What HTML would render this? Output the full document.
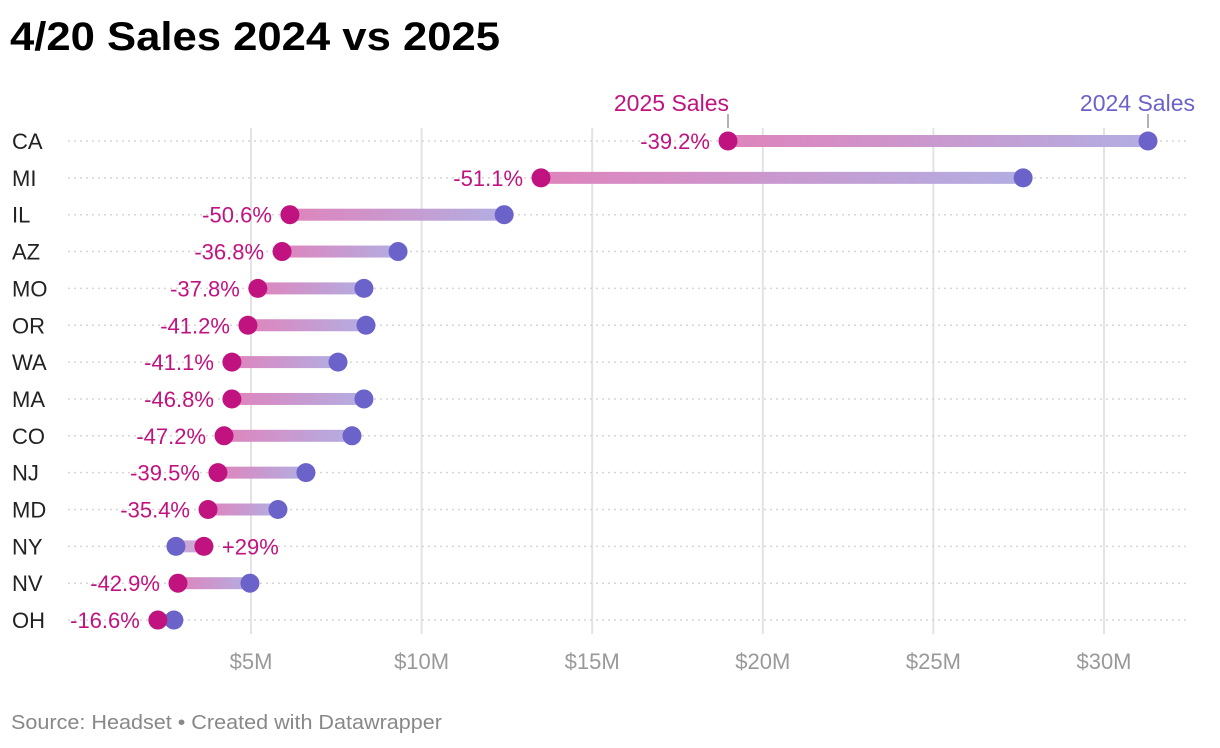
<!DOCTYPE html>
<html><head><meta charset="utf-8"><style>
body{margin:0;background:#fff;font-family:"Liberation Sans",sans-serif;}
svg{display:block}
</style></head><body>
<svg id="c" width="1220" height="748">
<defs><linearGradient id="g" x1="0" x2="1" y1="0" y2="0"><stop offset="0" stop-color="#df84bc"/><stop offset="1" stop-color="#b2aee2"/></linearGradient></defs>
<text x="10" y="50" font-size="40" font-weight="bold" fill="#000" textLength="490" lengthAdjust="spacingAndGlyphs">4/20 Sales 2024 vs 2025</text>
<text x="11" y="729" font-size="20" fill="#888" textLength="431" lengthAdjust="spacingAndGlyphs">Source: Headset • Created with Datawrapper</text>
</svg>
<script>
const states=["CA","MI","IL","AZ","MO","OR","WA","MA","CO","NJ","MD","NY","NV","OH"];
const sales2024=[31.29,27.63,12.42,9.31,8.31,8.37,7.55,8.31,7.96,6.61,5.79,2.80,4.97,2.74];
const sales2025=[18.98,13.50,6.14,5.91,5.20,4.91,4.44,4.44,4.21,4.03,3.74,3.62,2.86,2.27];
const pctLabels=["-39.2%","-51.1%","-50.6%","-36.8%","-37.8%","-41.2%","-41.1%","-46.8%","-47.2%","-39.5%","-35.4%","+29%","-42.9%","-16.6%"];
const ticks=[5,10,15,20,25,30];
const tickLabels=["$5M","$10M","$15M","$20M","$25M","$30M"];
const svg=document.getElementById('c');const NS="http://www.w3.org/2000/svg";
const x=v=>80.4+v*34.12;const y=i=>141+i*36.85;
function mk(t,a,p){const e=document.createElementNS(NS,t);for(const k in a)e.setAttribute(k,a[k]);(p||svg).appendChild(e);return e;}
ticks.forEach((t,i)=>{
const l=mk('line',{x1:x(t),x2:x(t),y1:128,y2:634,stroke:'#e3e3e3','stroke-width':2});


const tx=mk('text',{x:x(t),y:669,'font-size':22,fill:'#999','text-anchor':'middle'});tx.textContent=tickLabels[i];


});
states.forEach((s,i)=>{
const yy=y(i);
const gl=mk('line',{x1:68,x2:1186,y1:yy,y2:yy,stroke:'#d6d6d6','stroke-width':1.5,'stroke-dasharray':'2 4'});


const lb=mk('text',{x:12,y:yy+8,'font-size':22,fill:'#222'});lb.textContent=s;


const a=sales2025[i],b=sales2024[i];const lo=Math.min(a,b),hi=Math.max(a,b);
const r=mk('rect',{x:x(lo),y:yy-6,width:Math.max(0,x(hi)-x(lo)),height:12,fill:a<b?'url(#g)':'#cba7d8'});


const c1=mk('circle',{cx:x(b),cy:yy,r:9.5,fill:'#6b63c9'});


const c2=mk('circle',{cx:x(a),cy:yy,r:9.5,fill:'#c0137f'});


const right=a>b;
const pt=mk('text',{x:right?x(a)+18:x(a)-18,y:yy+8,'font-size':22,fill:'#c0137f','text-anchor':right?'start':'end'});pt.textContent=pctLabels[i];


});
const a0=x(sales2025[0]),b0=x(sales2024[0]);
const l1=mk('line',{x1:a0,x2:a0,y1:114,y2:128,stroke:'#999','stroke-width':1.5});


const l2=mk('line',{x1:b0,x2:b0,y1:114,y2:128,stroke:'#999','stroke-width':1.5});


const t1=mk('text',{x:a0+1,y:111,'font-size':23,fill:'#c0137f','text-anchor':'end'});t1.textContent="2025 Sales";


const t2=mk('text',{x:1195,y:111,'font-size':23,fill:'#6b63c9','text-anchor':'end'});t2.textContent="2024 Sales";


</script>
</body></html>
